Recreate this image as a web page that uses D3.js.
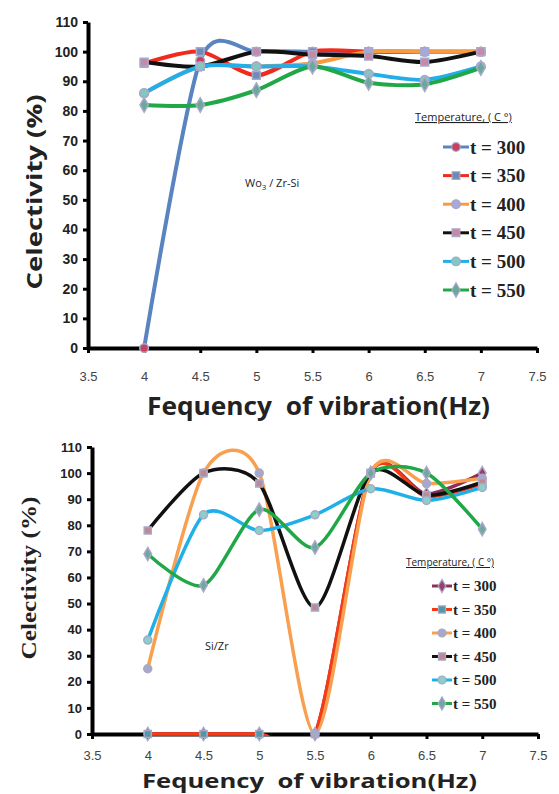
<!DOCTYPE html>
<html>
<head>
<meta charset="utf-8">
<script src="https://cdn.jsdelivr.net/npm/d3@7"></script>
<style>
  body { margin: 0; background: #fff; }
  svg { display: block; }
</style>
</head>
<body>
<div id="chart"></div>
<script>
// x values (frequency, Hz) and legend names
const freq = [4, 4.5, 5, 5.5, 6, 6.5, 7];
const tempNames = ["t = 300", "t = 350", "t = 400", "t = 450", "t = 500", "t = 550"];
const xTicks = [3.5, 4, 4.5, 5, 5.5, 6, 6.5, 7, 7.5];
const yTicks = [0, 10, 20, 30, 40, 50, 60, 70, 80, 90, 100, 110];

// WO3 / Zr-Si (top chart)
const wo3T300 = [0, 97, 100, 100, 100, 100, 100];
const wo3T350 = [96, 100, 92, 100, 100, 100, 100];
const wo3T400 = [86, 95, 95, 96, 100, 100, 100];
const wo3T450 = [96.5, 95, 100, 99, 98.5, 96.5, 100];
const wo3T500 = [86, 95, 95, 95, 92.5, 90.5, 95];
const wo3T550 = [82, 82, 87, 95, 89.5, 89, 94.5];

// Si/Zr (bottom chart)
const sizrT300 = [0, 0, 0, 0, 100, 92, 100];
const sizrT350 = [0, 0, 0, 0, 100, 91, 96];
const sizrT400 = [25, 100, 100, 0, 100, 96, 98];
const sizrT450 = [78, 100, 96, 48.5, 100, 91.5, 96.5];
const sizrT500 = [36, 84, 78, 84, 94, 89.5, 94.5];
const sizrT550 = [69, 57, 86, 71.5, 100, 100, 78.5];

const sansFont = "'Open Sans', 'Noto Sans', sans-serif";
const serifFont = "'Liberation Serif', 'DejaVu Serif', serif";

const svg = d3.select("#chart").append("svg")
  .attr("width", 559)
  .attr("height", 794);

let panelNo = 0;

function drawPanel(opt) {
  const x = d3.scaleLinear().domain([3.5, 7.5]).range([opt.left, opt.right]);
  const y = d3.scaleLinear().domain([0, 110]).range([opt.bottom, opt.top]);
  const g = svg.append("g");
  const clipId = "plotclip" + (panelNo++);

  // plot area clip (Excel cuts curves at the plot area)
  svg.append("clipPath").attr("id", clipId)
    .append("rect")
    .attr("x", opt.left).attr("y", opt.top - 4)
    .attr("width", opt.right - opt.left).attr("height", opt.bottom - opt.top + 6);

  // y axis
  g.append("g")
    .attr("transform", `translate(${opt.left},0)`)
    .call(d3.axisLeft(y).tickValues(yTicks).tickSize(5).tickPadding(5).tickSizeOuter(0))
    .call(a => a.select(".domain").attr("stroke", "#000").attr("stroke-width", opt.axisW))
    .call(a => a.selectAll(".tick line").attr("stroke", "#000").attr("stroke-width", 3))
    .call(a => a.selectAll(".tick text")
      .attr("fill", "#222")
      .style("font-family", "'Liberation Sans', Arial, sans-serif")
      .style("font-weight", "bold")
      .style("font-size", opt.yTickSize + "px"));

  // x axis
  g.append("g")
    .attr("transform", `translate(0,${opt.bottom})`)
    .call(d3.axisBottom(x).tickValues(xTicks).tickFormat(d => String(d))
      .tickSize(5).tickPadding(opt.xTickPad).tickSizeOuter(0))
    .call(a => a.select(".domain").attr("stroke", "#000").attr("stroke-width", opt.axisW))
    .call(a => a.selectAll(".tick line").attr("stroke", "#000").attr("stroke-width", 3))
    .call(a => a.selectAll(".tick text")
      .attr("fill", "#444")
      .style("font-family", "'Liberation Sans', Arial, sans-serif")
      .style("font-size", "13px"));

  const line = d3.line()
    .curve(d3.curveCardinal.tension(0.2))
    .x((d, i) => x(freq[i]))
    .y(d => y(d));

  const plot = g.append("g").attr("clip-path", `url(#${clipId})`);

  opt.series.forEach(s => {
    plot.append("path")
      .datum(s.values)
      .attr("fill", "none")
      .attr("stroke", s.line)
      .attr("stroke-width", opt.lineW)
      .attr("d", line);
  });
  opt.series.forEach(s => {
    g.selectAll(null)
      .data(s.values)
      .join("path")
      .attr("transform", (d, i) => `translate(${x(freq[i])},${y(d)})`)
      .attr("d", d3.symbol().type(s.shape).size(opt.markSize))
      .attr("fill", s.mark)
      .attr("stroke", "#a8a8c8")
      .attr("stroke-width", 1.5);
  });

  // label inside the plot
  g.append("text")
    .attr("x", opt.labelX)
    .attr("y", opt.labelY)
    .style("font-family", sansFont)
    .style("font-size", "11px")
    .attr("fill", "#222")
    .html(opt.label);

  // axis titles
  g.append("text")
    .attr("x", opt.xTitleX)
    .attr("y", opt.xTitleY)
    .attr("textLength", opt.xTitleW)
    .attr("lengthAdjust", "spacingAndGlyphs")
    .style("white-space", "pre")
    .style("font-family", sansFont)
    .style("font-weight", "bold")
    .style("font-size", opt.xTitleSize + "px")
    .attr("fill", "#222")
    .text("Fequency  of vibration(Hz)");

  g.append("text")
    .attr("transform", `translate(${opt.yTitleX},${opt.yTitleY}) rotate(-90)`)
    .attr("text-anchor", "middle")
    .attr("textLength", opt.yTitleW)
    .attr("lengthAdjust", "spacingAndGlyphs")
    .style("font-family", opt.yTitleFont)
    .style("font-weight", "bold")
    .style("font-size", opt.yTitleSize + "px")
    .attr("fill", "#222")
    .text("Celectivity (%)");

  // legend
  const lg = g.append("g");
  lg.append("text")
    .attr("x", opt.legX + opt.legHeadDx)
    .attr("y", opt.legY)
    .style("font-family", sansFont)
    .style("font-size", opt.legHeadSize + "px")
    .style("text-decoration", "underline")
    .attr("fill", "#222")
    .text("Temperature, ( C °)");

  opt.series.forEach((s, i) => {
    const yy = opt.legY + opt.legFirst + i * opt.legStep;
    lg.append("line")
      .attr("x1", opt.legX).attr("x2", opt.legX + opt.legLineW)
      .attr("y1", yy).attr("y2", yy)
      .attr("stroke", s.line)
      .attr("stroke-width", 3);
    lg.append("path")
      .attr("transform", `translate(${opt.legX + opt.legLineW / 2},${yy})`)
      .attr("d", d3.symbol().type(s.shape).size(opt.markSize))
      .attr("fill", s.mark)
      .attr("stroke", "#a8a8c8")
      .attr("stroke-width", 1.2);
    lg.append("text")
      .attr("x", opt.legX + opt.legLineW + 1)
      .attr("y", yy)
      .attr("dy", "0.35em")
      .style("font-family", serifFont)
      .style("font-weight", "bold")
      .style("font-size", opt.legSize + "px")
      .attr("fill", "#222")
      .text(s.name);
  });
}

drawPanel({
  left: 88, right: 537, top: 22, bottom: 348,
  axisW: 4, lineW: 4, markSize: 60, yTickSize: 14, xTickPad: 19,
  series: [
    { name: tempNames[0], values: wo3T300, line: "#5a84c0", mark: "#c84060", shape: d3.symbolCircle },
    { name: tempNames[1], values: wo3T350, line: "#f02a1c", mark: "#6a8cb8", shape: d3.symbolSquare },
    { name: tempNames[2], values: wo3T400, line: "#f89a40", mark: "#a8a8dc", shape: d3.symbolCircle },
    { name: tempNames[3], values: wo3T450, line: "#111111", mark: "#c888a8", shape: d3.symbolSquare },
    { name: tempNames[4], values: wo3T500, line: "#22aee8", mark: "#80c8c0", shape: d3.symbolCircle },
    { name: tempNames[5], values: wo3T550, line: "#20a848", mark: "#6aa89c", shape: d3.symbolDiamond }
  ],
  label: "Wo<tspan font-size='8' dy='3'>3</tspan><tspan dy='-3'> / Zr-Si</tspan>",
  labelX: 245, labelY: 187,
  xTitleX: 147, xTitleY: 415, xTitleW: 343, xTitleSize: 25,
  yTitleX: 42, yTitleY: 192, yTitleSize: 21, yTitleW: 195,
  yTitleFont: sansFont,
  legX: 443, legY: 121, legHeadDx: -28, legHeadSize: 11, legFirst: 26, legStep: 28.6, legLineW: 26, legSize: 19
});

drawPanel({
  left: 92, right: 538, top: 447, bottom: 734,
  axisW: 4, lineW: 3.5, markSize: 50, yTickSize: 13, xTickPad: 12,
  series: [
    { name: tempNames[0], values: sizrT300, line: "#8c3058", mark: "#9a4068", shape: d3.symbolDiamond },
    { name: tempNames[1], values: sizrT350, line: "#f83a14", mark: "#4a9aa8", shape: d3.symbolSquare },
    { name: tempNames[2], values: sizrT400, line: "#f8a050", mark: "#a8a8c8", shape: d3.symbolCircle },
    { name: tempNames[3], values: sizrT450, line: "#111111", mark: "#c08890", shape: d3.symbolSquare },
    { name: tempNames[4], values: sizrT500, line: "#20b0e8", mark: "#88d0c8", shape: d3.symbolCircle },
    { name: tempNames[5], values: sizrT550, line: "#20a848", mark: "#70a8a0", shape: d3.symbolDiamond }
  ],
  label: "Si/Zr",
  labelX: 205, labelY: 650,
  xTitleX: 142, xTitleY: 788, xTitleW: 335, xTitleSize: 20,
  yTitleX: 36, yTitleY: 578, yTitleSize: 21, yTitleW: 163,
  yTitleFont: serifFont,
  legX: 432, legY: 566, legHeadDx: -26, legHeadSize: 10, legFirst: 20, legStep: 23.5, legLineW: 20, legSize: 15
});
</script>
</body>
</html>
